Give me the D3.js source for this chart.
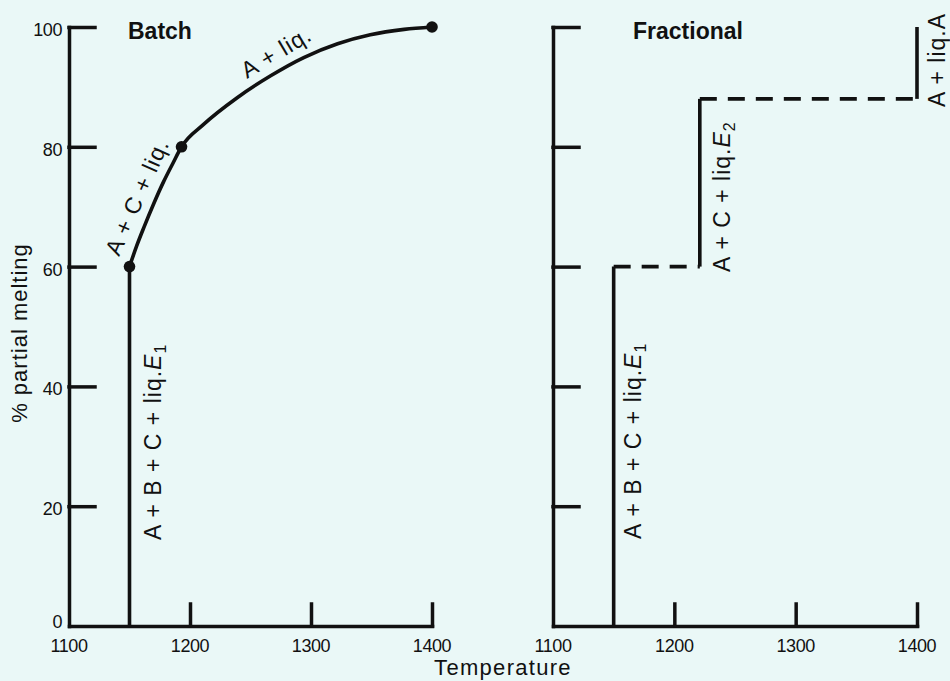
<!DOCTYPE html>
<html>
<head>
<meta charset="utf-8">
<script src="https://cdn.jsdelivr.net/npm/d3@7"></script>
<style>
  html, body { margin: 0; padding: 0; background: #eaf8f7; }
  svg { display: block; font-family: "Liberation Sans", Arial, sans-serif; }
</style>
</head>
<body>
<svg id="chart" width="950" height="681"></svg>
<script>
// temperature ticks and % melting ticks
const tempTicks = [1100, 1200, 1300, 1400];
const meltTicks = [0, 20, 40, 60, 80, 100];

// batch melting: vertical at eutectic, then curve up to 100 %
const batchT = [1150, 1150, 1156, 1162, 1170, 1178, 1186, 1193, 1211, 1239, 1267, 1294, 1322, 1349, 1377, 1400];
const batchF = [0, 60, 63.5, 66.6, 70.5, 74.1, 77.3, 80, 83.7, 88.2, 91.9, 94.9, 97.2, 98.7, 99.6, 100];
const batchDotT = [1150, 1193, 1400];
const batchDotF = [60, 80, 100];

// fractional melting: steps
const fracT = [1150, 1150, 1221, 1221, 1400, 1400];
const fracF = [0, 60, 60, 88, 88, 100];

const ink = "#111";
const svg = d3.select("#chart");

const y = d3.scaleLinear().domain([0, 100]).range([626, 27]);
const xL = d3.scaleLinear().domain([1100, 1400]).range([69, 432]);
const xR = d3.scaleLinear().domain([1100, 1400]).range([553, 917]);

function drawAxes(x, withYLabels) {
	const g = svg.append("g");

	const ya = g.append("g")
		.attr("transform", `translate(${x(1100)},0)`)
		.call(d3.axisRight(y).tickValues(meltTicks.slice(1)).tickSizeInner(26).tickSizeOuter(0).tickFormat(""));
	const xa = g.append("g")
		.attr("transform", `translate(0,${y(0)})`)
		.call(d3.axisTop(x).tickValues(tempTicks.slice(1)).tickSizeInner(22).tickSizeOuter(0).tickFormat(""));

	[ya, xa].forEach(a => {
		a.selectAll("path, line")
			.attr("stroke", ink)
			.attr("stroke-width", 3.5)
			.attr("stroke-linecap", "square");
	});

	g.selectAll(".xlab")
		.data(tempTicks)
		.enter()
		.append("text")
		.attr("x", d => x(d))
		.attr("y", y(0) + 26)
		.attr("text-anchor", "middle")
		.attr("font-size", 18)
		.attr("letter-spacing", -0.4)
		.attr("fill", ink)
		.text(d => d);

	if (withYLabels) {
		g.selectAll(".ylab")
			.data(meltTicks)
			.enter()
			.append("text")
			.attr("x", x(1100) - 7)
			.attr("y", d => y(d) + (d === 0 ? 1.5 : 9))
			.attr("text-anchor", "end")
			.attr("font-size", 18)
			.attr("letter-spacing", -0.4)
			.attr("fill", ink)
			.text(d => d);
	}
}

drawAxes(xL, true);
drawAxes(xR, false);

// batch
const batchPts = batchT.map((t, i) => [t, batchF[i]]);
svg.append("line")
	.attr("x1", xL(batchT[0])).attr("y1", y(batchF[0]))
	.attr("x2", xL(batchT[1])).attr("y2", y(batchF[1]))
	.attr("stroke", ink).attr("stroke-width", 3.6);

svg.append("path")
	.datum(batchPts.slice(1))
	.attr("fill", "none")
	.attr("stroke", ink)
	.attr("stroke-width", 3.6)
	.attr("stroke-linecap", "round")
	.attr("d", d3.line().curve(d3.curveMonotoneX).x(d => xL(d[0])).y(d => y(d[1])));

svg.selectAll(".dot")
	.data(batchDotT.map((t, i) => [t, batchDotF[i]]))
	.enter()
	.append("circle")
	.attr("cx", d => xL(d[0]))
	.attr("cy", d => y(d[1]))
	.attr("r", 5.8)
	.attr("fill", ink);

// fractional
const fracSeg = d3.pairs(fracT.map((t, i) => [t, fracF[i]]));
svg.selectAll(".step")
	.data(fracSeg)
	.enter()
	.append("line")
	.attr("x1", d => xR(d[0][0])).attr("y1", d => y(d[0][1]))
	.attr("x2", d => xR(d[1][0])).attr("y2", d => y(d[1][1]))
	.attr("stroke", ink)
	.attr("stroke-width", 3.6)
	.attr("stroke-dasharray", d => d[0][1] === d[1][1] ? "17,11" : null);

// titles
svg.append("text").attr("x", 128).attr("y", 39)
	.attr("font-size", 23).attr("font-weight", "bold").attr("fill", ink).text("Batch");
svg.append("text").attr("x", 633).attr("y", 39)
	.attr("font-size", 23).attr("font-weight", "bold").attr("fill", ink).text("Fractional");

svg.append("text")
	.attr("x", 503).attr("y", 675)
	.attr("text-anchor", "middle")
	.attr("font-size", 22).attr("letter-spacing", 1.3)
	.attr("fill", ink).text("Temperature");

svg.append("text")
	.attr("transform", "translate(27,333) rotate(-90)")
	.attr("text-anchor", "middle")
	.attr("font-size", 22).attr("letter-spacing", 1)
	.attr("fill", ink).text("% partial melting");

// phase labels
const notes = [
	{ x: xL(1150) + 31, y: 540, rot: -90, text: "A + B + C + liq.", e: "1" },
	{ x: xR(1150) + 27, y: 539, rot: -90, text: "A + B + C + liq.", e: "1" },
	{ x: xR(1221) + 30, y: 272, rot: -90, text: "A + C + liq.", e: "2" },
	{ x: xR(1400) + 28, y: 107, rot: -90, text: "A + liq.A", e: null },
	{ x: 119, y: 257, rot: -66, text: "A + C + liq.", e: null },
	{ x: 247, y: 79, rot: -31, text: "A + liq.", e: null }
];

notes.forEach(n => {
	const t = svg.append("text")
		.attr("transform", `translate(${n.x},${n.y}) rotate(${n.rot})`)
		.attr("font-size", 23)
		.attr("letter-spacing", 1)
		.attr("fill", ink);
	t.append("tspan").text(n.text);
	if (n.e) {
		t.append("tspan").attr("font-style", "italic").text("E");
		t.append("tspan").attr("font-size", 16).attr("dy", 5).text(n.e);
	}
});
</script>
</body>
</html>
